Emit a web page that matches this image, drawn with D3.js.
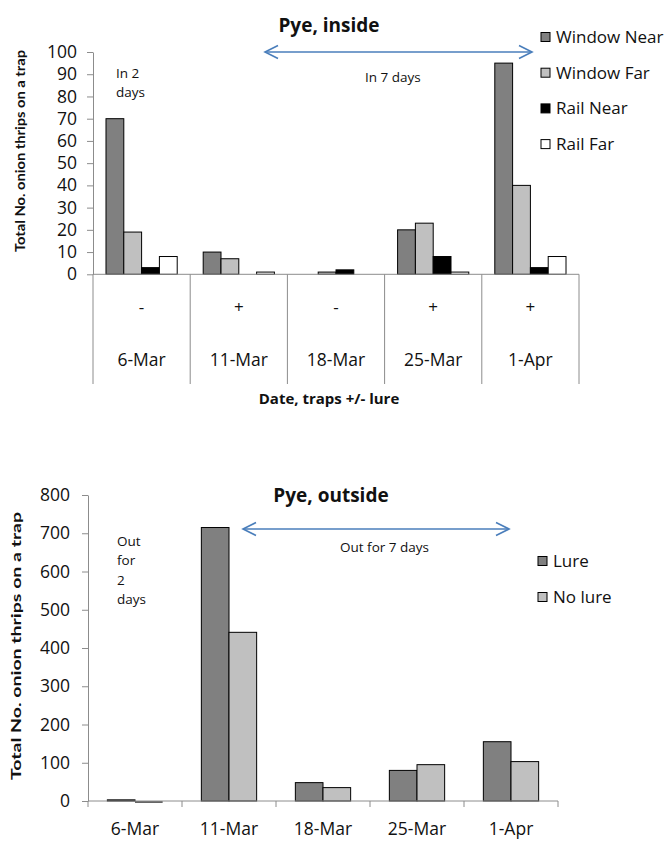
<!DOCTYPE html>
<html><head><meta charset="utf-8">
<script src="https://cdn.jsdelivr.net/npm/d3@7"></script>
<style>
body{margin:0;background:#fff;}
svg{display:block;}
text{font-family:"Open Sans",sans-serif;fill:#111;}
</style></head>
<body>
<script>
// ---------- DATA ----------
const dates = ["6-Mar","11-Mar","18-Mar","25-Mar","1-Apr"];
const lureSigns = ["-","+","-","+","+"];
const insideSeries = ["Window Near","Window Far","Rail Near","Rail Far"];
const windowNear = [70,10,0,20,95];
const windowFar  = [19,7,1,23,40];
const railNear   = [3,0,2,8,3];
const railFar    = [8,1,0,1,8];
const insideTicks = [0,10,20,30,40,50,60,70,80,90,100];

const outsideSeries = ["Lure","No lure"];
const lure   = [3,715,48,80,155];
const noLure = [0,441,35,95,103];
const outsideTicks = [0,100,200,300,400,500,600,700,800];

const insideColors = {"Window Near":"#808080","Window Far":"#c0c0c0","Rail Near":"#000000","Rail Far":"#ffffff"};
const outsideColors = {"Lure":"#808080","No lure":"#c0c0c0"};
const axisColor = "#8c8c8c";
const arrowColor = "#4a7ebb";

const svg = d3.select("body").append("svg").attr("width",664).attr("height",841);

function arrow(g, x1, x2, y){
  g.append("line").attr("x1",x1).attr("x2",x2).attr("y1",y).attr("y2",y)
    .attr("stroke",arrowColor).attr("stroke-width",1.6);
  g.append("path").attr("d",`M${x1+13},${y-6.5}L${x1},${y}L${x1+13},${y+6.5}`)
    .attr("fill","none").attr("stroke",arrowColor).attr("stroke-width",1.6);
  g.append("path").attr("d",`M${x2-13},${y-6.5}L${x2},${y}L${x2-13},${y+6.5}`)
    .attr("fill","none").attr("stroke",arrowColor).attr("stroke-width",1.6);
}

// ---------- TOP CHART: Pye, inside ----------
{
  const g = svg.append("g");
  const y = d3.scaleLinear().domain([0,100]).range([274.3,52]);
  const x = d3.scaleBand().domain(dates).range([93,579]).paddingInner(0).paddingOuter(0);
  const xs = d3.scaleBand().domain(insideSeries).range([0,x.bandwidth()]).paddingInner(0).paddingOuter(0.73);
  const vals = {"Window Near":windowNear,"Window Far":windowFar,"Rail Near":railNear,"Rail Far":railFar};

  insideSeries.forEach(s=>{
    g.append("g").selectAll("rect").data(dates.map((d,i)=>({d,v:vals[s][i]})).filter(o=>o.v>0)).join("rect")
      .attr("x",o=>x(o.d)+xs(s)).attr("width",xs.bandwidth())
      .attr("y",o=>y(o.v)).attr("height",o=>y(0)-y(o.v))
      .attr("fill",insideColors[s]).attr("stroke","#000").attr("stroke-width",1);
  });

  const ya = g.append("g").attr("transform","translate(93,0)")
    .call(d3.axisLeft(y).tickValues(insideTicks).tickSize(6).tickSizeOuter(0).tickPadding(10));
  ya.select(".domain").attr("stroke",axisColor);
  ya.selectAll(".tick line").attr("stroke",axisColor);
  ya.selectAll("text").style("font-family","Open Sans").style("font-size","17.5px").attr("fill","#111");

  g.append("line").attr("x1",93).attr("x2",579).attr("y1",y(0)).attr("y2",y(0)).attr("stroke",axisColor);
  const bounds = dates.map(d=>x(d)).concat([x(dates[dates.length-1])+x.bandwidth()]);
  g.selectAll(".sep").data(bounds).join("line").attr("class","sep")
    .attr("x1",d=>d).attr("x2",d=>d).attr("y1",y(0)).attr("y2",384).attr("stroke",axisColor);
  g.selectAll(".sign").data(dates).join("text").attr("class","sign")
    .attr("x",d=>x(d)+x.bandwidth()/2).attr("y",313).attr("text-anchor","middle")
    .style("font-size","17px").text((d,i)=>lureSigns[i]);
  g.selectAll(".dlab").data(dates).join("text").attr("class","dlab")
    .attr("x",d=>x(d)+x.bandwidth()/2).attr("y",366).attr("text-anchor","middle")
    .style("font-size","17.5px").text(d=>d);

  g.append("text").attr("x",329).attr("y",32).attr("text-anchor","middle")
    .style("font-size","19px").style("font-weight","bold").text("Pye, inside");
  g.append("text").attr("x",329).attr("y",404).attr("text-anchor","middle")
    .style("font-size","15px").style("font-weight","bold").text("Date, traps +/- lure");
  g.append("text").attr("transform","translate(25,151) rotate(-90)").attr("text-anchor","middle")
    .attr("textLength",202).attr("lengthAdjust","spacingAndGlyphs")
    .style("font-family","Lato").style("font-size","14px").style("font-weight","bold")
    .text("Total No. onion thrips on a trap");

  arrow(g,265,532,52);
  g.append("text").attr("x",365).attr("y",82).style("font-size","13.5px").text("In 7 days");
  g.append("text").attr("x",116).attr("y",78).style("font-size","13.5px").text("In 2");
  g.append("text").attr("x",116).attr("y",97).style("font-size","13.5px").text("days");

  const lg = g.append("g").selectAll("g").data(insideSeries).join("g")
    .attr("transform",(d,i)=>`translate(541,${37+i*35.7})`);
  lg.append("rect").attr("x",0).attr("y",-4.5).attr("width",9).attr("height",9)
    .attr("fill",d=>insideColors[d]).attr("stroke","#000").attr("stroke-width",1);
  lg.append("text").attr("x",15).attr("y",6).style("font-size","17px").text(d=>d);
}

// ---------- BOTTOM CHART: Pye, outside ----------
{
  const g = svg.append("g");
  const y = d3.scaleLinear().domain([0,800]).range([801,495]);
  const x = d3.scaleBand().domain(dates).range([88,558]).paddingInner(0).paddingOuter(0);
  const xs = d3.scaleBand().domain(outsideSeries).range([0,x.bandwidth()]).paddingInner(0).paddingOuter(0.7);
  const vals = {"Lure":lure,"No lure":noLure};

  outsideSeries.forEach(s=>{
    const data = dates.map((d,i)=>({d,v:vals[s][i]}));
    g.append("g").selectAll("rect").data(data.filter(o=>o.v>0)).join("rect")
      .attr("x",o=>x(o.d)+xs(s)).attr("width",xs.bandwidth())
      .attr("y",o=>y(o.v)).attr("height",o=>y(0)-y(o.v))
      .attr("fill",outsideColors[s]).attr("stroke","#000").attr("stroke-width",1);
    // zero-value bars show as a thin outline on the baseline
    g.append("g").selectAll("line").data(data.filter(o=>o.v===0)).join("line")
      .attr("x1",o=>x(o.d)+xs(s)).attr("x2",o=>x(o.d)+xs(s)+xs.bandwidth())
      .attr("y1",y(0)+1).attr("y2",y(0)+1).attr("stroke","#333").attr("stroke-width",1.5);
  });

  const ya = g.append("g").attr("transform","translate(88,0)")
    .call(d3.axisLeft(y).tickValues(outsideTicks).tickSize(6).tickSizeOuter(0).tickPadding(12));
  ya.select(".domain").attr("stroke",axisColor);
  ya.selectAll(".tick line").attr("stroke",axisColor);
  ya.selectAll("text").style("font-family","Open Sans").style("font-size","17.5px").attr("fill","#111");

  g.append("line").attr("x1",88).attr("x2",558).attr("y1",y(0)).attr("y2",y(0)).attr("stroke",axisColor);
  const bounds = dates.map(d=>x(d)).concat([x(dates[dates.length-1])+x.bandwidth()]);
  g.selectAll(".tk").data(bounds).join("line").attr("class","tk")
    .attr("x1",d=>d).attr("x2",d=>d).attr("y1",y(0)).attr("y2",y(0)+6).attr("stroke",axisColor);
  g.selectAll(".dlab").data(dates).join("text").attr("class","dlab")
    .attr("x",d=>x(d)+x.bandwidth()/2).attr("y",835).attr("text-anchor","middle")
    .style("font-size","17.5px").text(d=>d);

  g.append("text").attr("x",331).attr("y",502).attr("text-anchor","middle")
    .style("font-size","19px").style("font-weight","bold").text("Pye, outside");
  g.append("text").attr("transform","translate(21,646) rotate(-90)").attr("text-anchor","middle")
    .attr("textLength",268).attr("lengthAdjust","spacingAndGlyphs")
    .style("font-family","Lato").style("font-size","14px").style("font-weight","bold")
    .text("Total No. onion thrips on a trap");

  arrow(g,243,509,529);
  g.append("text").attr("x",340).attr("y",552).style("font-size","13.5px").text("Out for  7 days");
  ["Out","for","2","days"].forEach((t,i)=>{
    g.append("text").attr("x",117).attr("y",546+i*19.3).style("font-size","13.5px").text(t);
  });

  const lg = g.append("g").selectAll("g").data(outsideSeries).join("g")
    .attr("transform",(d,i)=>`translate(538,${561+i*36})`);
  lg.append("rect").attr("x",0).attr("y",-4.5).attr("width",9).attr("height",9)
    .attr("fill",d=>outsideColors[d]).attr("stroke","#000").attr("stroke-width",1);
  lg.append("text").attr("x",15).attr("y",6).style("font-size","17px").text(d=>d);
}
</script>
</body></html>
